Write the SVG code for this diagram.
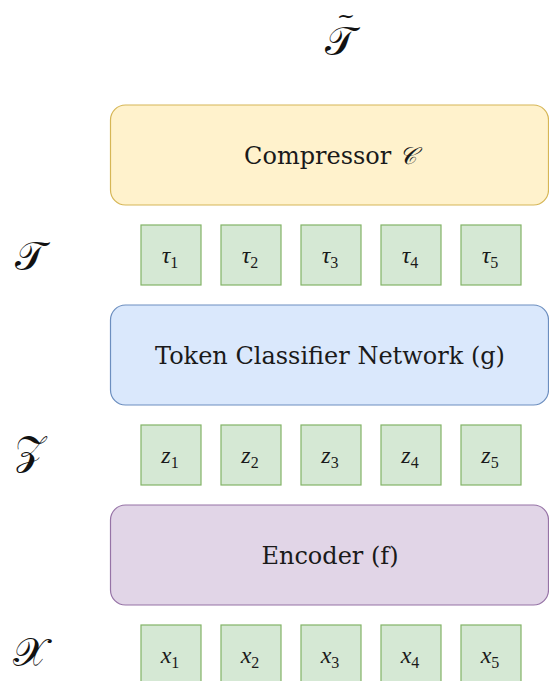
<svg xmlns="http://www.w3.org/2000/svg" width="549" height="681" viewBox="0 0 549 681">
<style>
.bg{fill:#ffffff}
.tok{fill:#d5e8d4;stroke:#82b366;stroke-width:1.2}
.comp{fill:#fff2cc;stroke:#d6b656;stroke-width:1.2}
.cls{fill:#dae8fc;stroke:#6c8ebf;stroke-width:1.2}
.enc{fill:#e1d5e7;stroke:#9673a6;stroke-width:1.2}
.lbl{font-family:"DejaVu Serif","Liberation Serif",serif;font-size:24px;fill:#1a1a1a;text-anchor:middle}
.math{font-family:"Liberation Serif","DejaVu Serif",serif;font-size:24px;font-style:italic;fill:#1a1a1a;text-anchor:middle}
.sub{font-style:normal;font-size:16px}
.cal{font-family:"DejaVu Serif","Noto Sans","Liberation Serif",serif;font-size:40px;fill:#111;text-anchor:middle}
.tilde{font-family:"DejaVu Serif","Liberation Serif",serif;font-size:22px;fill:#111;text-anchor:middle}
</style>
<rect class="bg" x="0" y="0" width="549" height="681"/>
<g id="connectors"></g>
<g id="T-tilde"><text class="tilde" x="346" y="23">~</text><text class="cal" x="340" y="55">𝒯</text></g>
<g id="compressor"><rect class="comp" x="110.5" y="105" width="438" height="100" rx="15"/><text class="lbl" x="330" y="164">Compressor <tspan font-style="italic">𝒞</tspan></text></g>
<g id="T-label"><text class="cal" x="30" y="270">𝒯</text></g>
<g id="tau1"><rect class="tok" x="141" y="225" width="60" height="60"/><text class="math" x="170" y="263">τ<tspan class="sub" dy="5">1</tspan></text></g>
<g id="tau2"><rect class="tok" x="221" y="225" width="60" height="60"/><text class="math" x="250" y="263">τ<tspan class="sub" dy="5">2</tspan></text></g>
<g id="tau3"><rect class="tok" x="301" y="225" width="60" height="60"/><text class="math" x="330" y="263">τ<tspan class="sub" dy="5">3</tspan></text></g>
<g id="tau4"><rect class="tok" x="381" y="225" width="60" height="60"/><text class="math" x="410" y="263">τ<tspan class="sub" dy="5">4</tspan></text></g>
<g id="tau5"><rect class="tok" x="461" y="225" width="60" height="60"/><text class="math" x="490" y="263">τ<tspan class="sub" dy="5">5</tspan></text></g>
<g id="classifier"><rect class="cls" x="110.5" y="305" width="438" height="100" rx="15"/><text class="lbl" x="330" y="364">Token Classifier Network (g)</text></g>
<g id="Z-label"><text class="cal" x="30" y="464">𝒵</text></g>
<g id="z1"><rect class="tok" x="141" y="425" width="60" height="60"/><text class="math" x="170" y="463">z<tspan class="sub" dy="5">1</tspan></text></g>
<g id="z2"><rect class="tok" x="221" y="425" width="60" height="60"/><text class="math" x="250" y="463">z<tspan class="sub" dy="5">2</tspan></text></g>
<g id="z3"><rect class="tok" x="301" y="425" width="60" height="60"/><text class="math" x="330" y="463">z<tspan class="sub" dy="5">3</tspan></text></g>
<g id="z4"><rect class="tok" x="381" y="425" width="60" height="60"/><text class="math" x="410" y="463">z<tspan class="sub" dy="5">4</tspan></text></g>
<g id="z5"><rect class="tok" x="461" y="425" width="60" height="60"/><text class="math" x="490" y="463">z<tspan class="sub" dy="5">5</tspan></text></g>
<g id="encoder"><rect class="enc" x="110.5" y="505" width="438" height="100" rx="15"/><text class="lbl" x="330" y="564">Encoder (f)</text></g>
<g id="X-label"><text class="cal" x="30" y="666">𝒳</text></g>
<g id="x1"><rect class="tok" x="141" y="625" width="60" height="60"/><text class="math" x="170" y="663">x<tspan class="sub" dy="5">1</tspan></text></g>
<g id="x2"><rect class="tok" x="221" y="625" width="60" height="60"/><text class="math" x="250" y="663">x<tspan class="sub" dy="5">2</tspan></text></g>
<g id="x3"><rect class="tok" x="301" y="625" width="60" height="60"/><text class="math" x="330" y="663">x<tspan class="sub" dy="5">3</tspan></text></g>
<g id="x4"><rect class="tok" x="381" y="625" width="60" height="60"/><text class="math" x="410" y="663">x<tspan class="sub" dy="5">4</tspan></text></g>
<g id="x5"><rect class="tok" x="461" y="625" width="60" height="60"/><text class="math" x="490" y="663">x<tspan class="sub" dy="5">5</tspan></text></g>
</svg>
